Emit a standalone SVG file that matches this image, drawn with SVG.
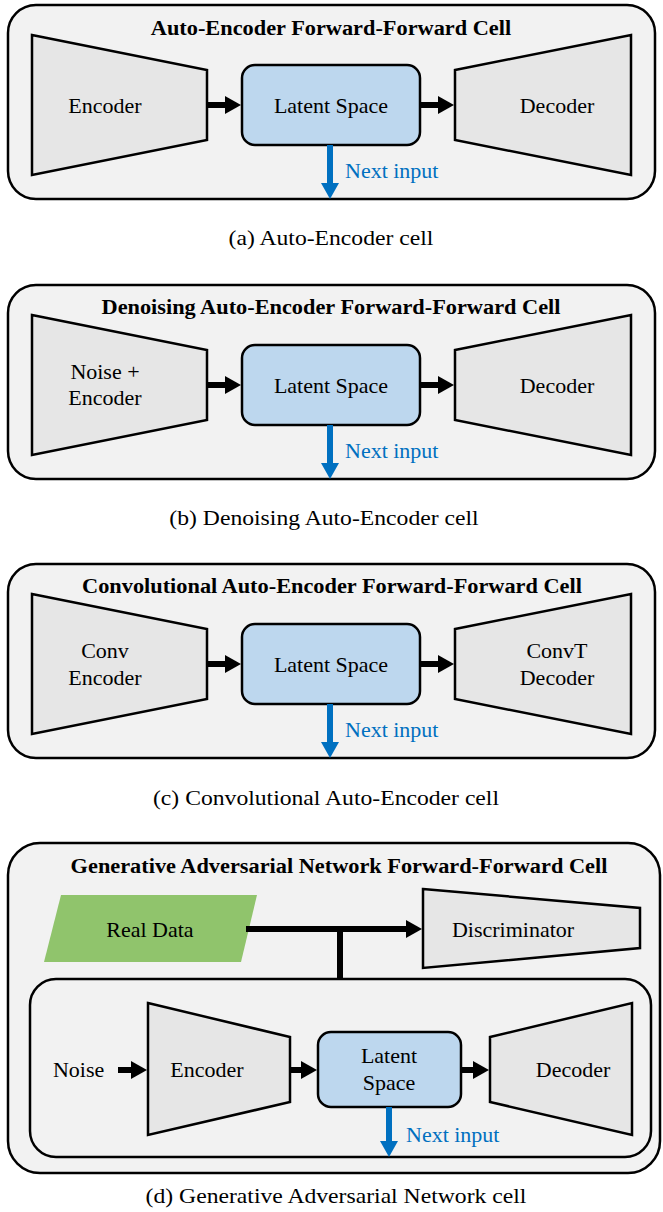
<svg xmlns="http://www.w3.org/2000/svg" width="663" height="1212" viewBox="0 0 663 1212">
  <defs>
    <marker id="ah" viewBox="0 0 16 18" markerUnits="userSpaceOnUse" markerWidth="16" markerHeight="18" refX="4" refY="9" orient="auto">
      <path d="M0,0 L16,9 L0,18 z" fill="#000"/>
    </marker>
    <marker id="ahb" viewBox="0 0 16 18" markerUnits="userSpaceOnUse" markerWidth="16" markerHeight="18" refX="4" refY="9" orient="auto">
      <path d="M0,0 L16,9 L0,18 z" fill="#0070c0"/>
    </marker>
    <style>
      .panel { fill: #f2f2f2; stroke: #000; stroke-width: 2.5; }
      .trap { fill: #e6e6e6; stroke: #000; stroke-width: 2.5; stroke-linejoin: miter; }
      .latent { fill: #bdd7ee; stroke: #000; stroke-width: 2.5; }
      .data { fill: #90c46c; stroke: none; }
      .flow { stroke: #000; stroke-width: 6; fill: none; marker-end: url(#ah); }
      .bar { stroke: #000; stroke-width: 6; fill: none; }
      .out { stroke: #0070c0; stroke-width: 6; fill: none; marker-end: url(#ahb); }
      text { font-family: "Liberation Serif", "Times New Roman", serif; transform-box: fill-box; transform: scaleX(1.1); }
      .lbl { font-size: 20px; fill: #000; text-anchor: middle; transform-origin: center; }
      .title { font-size: 20.3px; font-weight: bold; fill: #000; text-anchor: middle; transform-origin: center; }
      .cap { font-size: 21.5px; fill: #000; text-anchor: middle; transform-origin: center; }
      .next { font-size: 20px; fill: #0070c0; text-anchor: start; transform-origin: left center; }
      .lft { font-size: 20px; fill: #000; text-anchor: start; transform-origin: left center; }
    </style>
  </defs>

  <!-- (a) Auto-Encoder cell -->
  <g id="cell-a">
    <rect class="panel" x="8" y="5" width="647" height="194" rx="28"/>
    <text class="title" x="331" y="35">Auto-Encoder Forward-Forward Cell</text>
    <g id="a-encoder">
      <polygon class="trap" points="32,35 207,70 207,140 32,175"/>
      <text class="lbl" x="105" y="113">Encoder</text>
    </g>
    <g id="a-latent">
      <rect class="latent" x="242" y="65" width="178" height="80" rx="13"/>
      <text class="lbl" x="331" y="113">Latent Space</text>
    </g>
    <g id="a-decoder">
      <polygon class="trap" points="455,70 631,35 631,175 455,140"/>
      <text class="lbl" x="557" y="113">Decoder</text>
    </g>
    <g id="a-connectors">
      <line class="flow" x1="207" y1="105" x2="229" y2="105"/>
      <line class="flow" x1="420" y1="105" x2="442" y2="105"/>
      <line class="out" x1="330" y1="145" x2="330" y2="187"/>
      <text class="next" x="345" y="178">Next input</text>
    </g>
  </g>
  <text class="cap" x="331" y="245">(a) Auto-Encoder cell</text>

  <!-- (b) Denoising Auto-Encoder cell -->
  <g id="cell-b" transform="translate(0,280)">
    <rect class="panel" x="8" y="5" width="647" height="194" rx="28"/>
    <text class="title" x="331" y="34">Denoising Auto-Encoder Forward-Forward Cell</text>
    <g id="b-encoder">
      <polygon class="trap" points="32,35 207,70 207,140 32,175"/>
      <text class="lbl" x="105" y="99">Noise +</text>
      <text class="lbl" x="105" y="125">Encoder</text>
    </g>
    <g id="b-latent">
      <rect class="latent" x="242" y="65" width="178" height="80" rx="13"/>
      <text class="lbl" x="331" y="113">Latent Space</text>
    </g>
    <g id="b-decoder">
      <polygon class="trap" points="455,70 631,35 631,175 455,140"/>
      <text class="lbl" x="557" y="113">Decoder</text>
    </g>
    <g id="b-connectors">
      <line class="flow" x1="207" y1="105" x2="229" y2="105"/>
      <line class="flow" x1="420" y1="105" x2="442" y2="105"/>
      <line class="out" x1="330" y1="145" x2="330" y2="187"/>
      <text class="next" x="345" y="178">Next input</text>
    </g>
  </g>
  <text class="cap" x="324" y="525">(b) Denoising Auto-Encoder cell</text>

  <!-- (c) Convolutional Auto-Encoder cell -->
  <g id="cell-c" transform="translate(0,559)">
    <rect class="panel" x="8" y="5" width="647" height="194" rx="28"/>
    <text class="title" x="332" y="34">Convolutional Auto-Encoder Forward-Forward Cell</text>
    <g id="c-encoder">
      <polygon class="trap" points="32,35 207,70 207,140 32,175"/>
      <text class="lbl" x="105" y="99">Conv</text>
      <text class="lbl" x="105" y="126">Encoder</text>
    </g>
    <g id="c-latent">
      <rect class="latent" x="242" y="65" width="178" height="80" rx="13"/>
      <text class="lbl" x="331" y="113">Latent Space</text>
    </g>
    <g id="c-decoder">
      <polygon class="trap" points="455,70 631,35 631,175 455,140"/>
      <text class="lbl" x="557" y="99">ConvT</text>
      <text class="lbl" x="557" y="126">Decoder</text>
    </g>
    <g id="c-connectors">
      <line class="flow" x1="207" y1="105" x2="229" y2="105"/>
      <line class="flow" x1="420" y1="105" x2="442" y2="105"/>
      <line class="out" x1="330" y1="145" x2="330" y2="187"/>
      <text class="next" x="345" y="178">Next input</text>
    </g>
  </g>
  <text class="cap" x="326" y="805">(c) Convolutional Auto-Encoder cell</text>

  <!-- (d) Generative Adversarial Network cell -->
  <g id="cell-d">
    <rect class="panel" x="8" y="843" width="652" height="330" rx="32"/>
    <text class="title" x="339" y="873">Generative Adversarial Network Forward-Forward Cell</text>
    <g id="d-realdata">
      <polygon class="data" points="61,895 257,895 241,962 44,962"/>
      <text class="lbl" x="150" y="937">Real Data</text>
    </g>
    <g id="d-discriminator">
      <polygon class="trap" points="423,889 640,908 640,948 423,968"/>
      <text class="lbl" x="513" y="937">Discriminator</text>
    </g>
    <g id="d-generator">
      <rect class="panel" x="30" y="979" width="621" height="178" rx="26"/>
      <text class="lft" x="53" y="1077">Noise</text>
      <g id="d-encoder">
        <polygon class="trap" points="148,1003 290,1037 290,1102 148,1135"/>
        <text class="lbl" x="207" y="1077">Encoder</text>
      </g>
      <g id="d-latent">
        <rect class="latent" x="318" y="1032" width="143" height="75" rx="13"/>
        <text class="lbl" x="389" y="1063">Latent</text>
        <text class="lbl" x="389" y="1090">Space</text>
      </g>
      <g id="d-decoder">
        <polygon class="trap" points="490,1037 632,1003 632,1135 490,1102"/>
        <text class="lbl" x="573" y="1077">Decoder</text>
      </g>
    </g>
    <g id="d-connectors">
      <line class="flow" x1="246" y1="929" x2="410" y2="929"/>
      <line class="bar" x1="340" y1="926" x2="340" y2="979"/>
      <line class="flow" x1="118" y1="1070" x2="135" y2="1070"/>
      <line class="flow" x1="290" y1="1070" x2="305" y2="1070"/>
      <line class="flow" x1="461" y1="1070" x2="477" y2="1070"/>
      <line class="out" x1="389" y1="1107" x2="389" y2="1145"/>
      <text class="next" x="406" y="1142">Next input</text>
    </g>
  </g>
  <text class="cap" x="336" y="1203">(d) Generative Adversarial Network cell</text>
</svg>
